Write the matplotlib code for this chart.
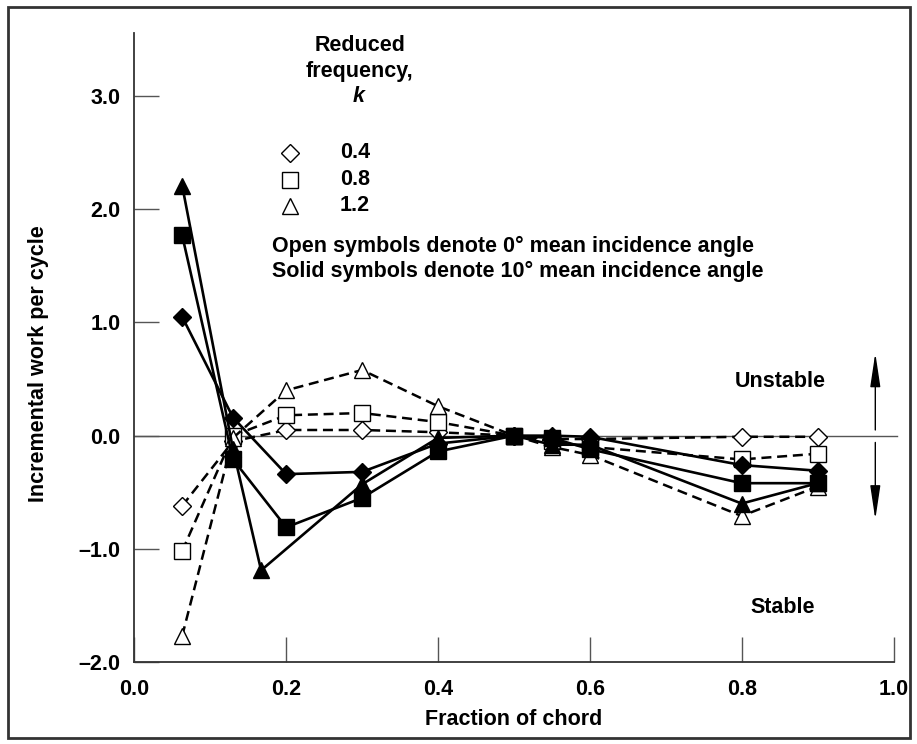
import matplotlib
matplotlib.use("Agg")
import matplotlib.pyplot as plt
from matplotlib.patches import Rectangle

plt.rcParams['font.family'] = ['Liberation Sans', 'DejaVu Sans']
plt.rcParams['font.weight'] = 'bold'
plt.rcParams['axes.labelweight'] = 'bold'
plt.rcParams['mathtext.fontset'] = 'custom'
plt.rcParams['mathtext.it'] = 'Liberation Sans:italic:bold'

# chordwise stations
x_std = [0.063, 0.13, 0.20, 0.30, 0.40, 0.50, 0.55, 0.60, 0.80, 0.90]
x_tri10 = [0.063, 0.13, 0.167, 0.30, 0.40, 0.50, 0.55, 0.60, 0.80, 0.90]

# 0 deg mean incidence (open symbols, dashed)
w0_k04 = [-0.62, -0.05, 0.05, 0.05, 0.03, 0.00, -0.03, -0.03, -0.01, -0.01]
w0_k08 = [-1.02, 0.00, 0.18, 0.20, 0.12, 0.00, -0.05, -0.10, -0.21, -0.16]
w0_k12 = [-1.77, -0.02, 0.40, 0.58, 0.26, 0.00, -0.10, -0.17, -0.71, -0.45]

# 10 deg mean incidence (solid symbols, solid lines)
w10_k04 = [1.05, 0.16, -0.34, -0.32, -0.07, 0.00, 0.00, -0.01, -0.26, -0.31]
w10_k08 = [1.77, -0.21, -0.81, -0.55, -0.14, 0.00, -0.02, -0.12, -0.42, -0.42]
w10_k12 = [2.21, -0.12, -1.19, -0.43, -0.02, 0.00, -0.08, -0.08, -0.60, -0.42]

k_labels = ['0.4', '0.8', '1.2']
k_markers = ['D', 's', '^']
k_msize = [9.5, 11, 11]

y_ticks = [-2.0, -1.0, 0.0, 1.0, 2.0, 3.0]
x_ticks = [0.0, 0.2, 0.4, 0.6, 0.8, 1.0]

FS = 15.5

fig = plt.figure(figsize=(9.17, 7.44), dpi=100)
ax = fig.add_axes([0.1465, 0.1102, 0.8279, 0.8458])

ax.axhline(0.0, xmin=0, xmax=1.005, color='#555555', lw=1.0, clip_on=False, zorder=1)

open_sets = [w0_k04, w0_k08, w0_k12]
solid_sets = [w10_k04, w10_k08, w10_k12]
for i in range(3):
    ax.plot(x_std, open_sets[i], color='black', lw=1.8, dashes=(4, 2.3),
            marker=k_markers[i], ms=k_msize[i], mfc='white', mec='black', mew=1.0, zorder=3)
for i in range(3):
    xs = x_tri10 if i == 2 else x_std
    ax.plot(xs, solid_sets[i], color='black', lw=1.9,
            marker=k_markers[i], ms=k_msize[i], mfc='black', mec='black', zorder=4)

ax.set_xlim(0.0, 1.0)
ax.set_ylim(-2.0, 3.56)
ax.set_xticks(x_ticks)
ax.set_yticks(y_ticks)
ax.set_xticklabels([f'{v:.1f}' for v in x_ticks], fontsize=FS)
ax.set_yticklabels([f'{v:.1f}'.replace('-', '\u2013') for v in y_ticks], fontsize=FS)
ax.tick_params(direction='in', length=18, width=1.0, color='#555555', pad=10)
ax.tick_params(axis='x', pad=12)
for s in ['top', 'right']:
    ax.spines[s].set_visible(False)
for s in ['left', 'bottom']:
    ax.spines[s].set_color('#333333')
    ax.spines[s].set_linewidth(1.3)

ax.set_xlabel('Fraction of chord', fontsize=FS)
ax.xaxis.set_label_coords(0.499, -0.075)
ax.set_ylabel('Incremental work per cycle', fontsize=FS)
ax.yaxis.set_label_coords(-0.112, 0.474)

# key for reduced frequency
ax.text(0.297, 0.979, 'Reduced', transform=ax.transAxes, ha='center', va='center', fontsize=FS)
ax.text(0.297, 0.939, 'frequency,', transform=ax.transAxes, ha='center', va='center', fontsize=FS)
ax.text(0.297, 0.898, '$\\mathit{k}$', transform=ax.transAxes, ha='center', va='center', fontsize=FS)
key_y = [0.809, 0.766, 0.725]
for i in range(3):
    ax.plot([0.205], [key_y[i]], transform=ax.transAxes, marker=k_markers[i], ms=k_msize[i],
            mfc='white', mec='black', mew=1.0, ls='none', clip_on=False)
    ax.text(0.271, key_y[i], k_labels[i], transform=ax.transAxes, ha='left', va='center', fontsize=FS)
ax.text(0.181, 0.661, 'Open symbols denote 0\u00b0 mean incidence angle',
        transform=ax.transAxes, ha='left', va='center', fontsize=FS)
ax.text(0.181, 0.620, 'Solid symbols denote 10\u00b0 mean incidence angle',
        transform=ax.transAxes, ha='left', va='center', fontsize=FS)

# stability direction
ax.text(0.851, 0.48, 'Unstable', ha='center', va='center', fontsize=FS)
ax.text(0.854, -1.52, 'Stable', ha='center', va='center', fontsize=FS)
arrow = dict(arrowstyle='-|>,head_length=1.6,head_width=0.24', color='black', lw=1.0,
             shrinkA=0, shrinkB=0, mutation_scale=13)
ax.annotate('', xy=(0.976, 0.73), xytext=(0.976, 0.05), arrowprops=arrow, annotation_clip=False)
ax.annotate('', xy=(0.976, -0.74), xytext=(0.976, -0.06), arrowprops=arrow, annotation_clip=False)

fig.add_artist(Rectangle((0.0087, 0.008), 0.9837, 0.9826, transform=fig.transFigure,
                         fill=False, edgecolor='#333333', lw=2.0))

fig.savefig('out.png', dpi=100)
